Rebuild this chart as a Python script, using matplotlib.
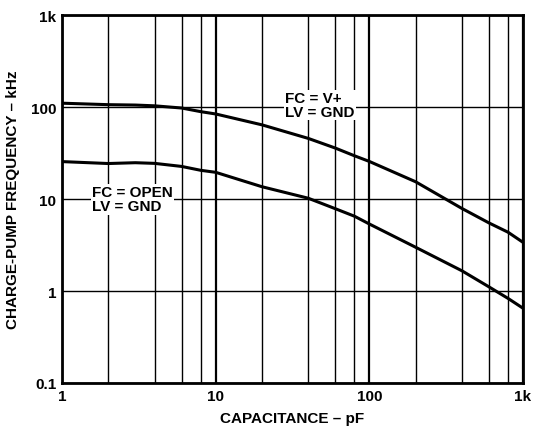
import matplotlib
matplotlib.use("Agg")
import matplotlib.pyplot as plt
from matplotlib.ticker import FixedLocator, NullLocator, FixedFormatter

plt.rcParams['font.family'] = ['Liberation Sans', 'DejaVu Sans']
plt.rcParams['font.weight'] = 'bold'

# capacitance (pF) and charge-pump frequency (kHz)
cap = [1, 2, 3, 4, 6, 8, 10, 20, 40, 60, 80, 100, 200, 400, 600, 800, 1000]
f_vplus = [110, 106, 105, 103, 97.5, 89, 84, 64, 45.6, 35.8, 29.5, 25.6, 15.4, 7.9, 5.5, 4.35, 3.38]
f_open = [25.5, 24.3, 24.8, 24.4, 22.6, 20.5, 19.5, 13.6, 10.2, 7.85, 6.5, 5.35, 2.99, 1.66, 1.11, 0.83, 0.65]

x_ticks = [1, 10, 100, 1000]
x_labels = ["1", "10", "100", "1k"]
y_ticks = [0.1, 1, 10, 100, 1000]
y_labels = ["0.1", "1", "10", "100", "1k"]
x_minor = [2, 4, 6, 8, 20, 40, 60, 80, 200, 400, 600, 800]

fig = plt.figure(figsize=(5.38, 4.31), dpi=100)
ax = fig.add_axes([62/538, 47/431, 461/538, 368/431])
ax.set_xscale('log')
ax.set_yscale('log')
ax.set_xlim(1, 1000)
ax.set_ylim(0.1, 1000)

ax.xaxis.set_major_locator(FixedLocator(x_ticks))
ax.xaxis.set_major_formatter(FixedFormatter(x_labels))
ax.xaxis.set_minor_locator(FixedLocator(x_minor))
ax.yaxis.set_major_locator(FixedLocator(y_ticks))
ax.yaxis.set_major_formatter(FixedFormatter(y_labels))
ax.yaxis.set_minor_locator(NullLocator())

ax.grid(True, which='major', axis='x', color='black', linewidth=1.6)
ax.grid(True, which='minor', axis='x', color='black', linewidth=1.0)
ax.grid(True, which='major', axis='y', color='black', linewidth=1.0)
ax.tick_params(which='both', length=0, labelsize=11, pad=4)
for lab in ax.get_xticklabels() + ax.get_yticklabels():
    lab.set_fontweight('bold')
for s in ax.spines.values():
    s.set_linewidth(2)

ax.plot(cap, f_vplus, color='black', linewidth=2.2, zorder=3)
ax.plot(cap, f_open, color='black', linewidth=2.2, zorder=3)

ax.text(1.57, 9.9, "FC = OPEN\nLV = GND", fontsize=11, fontweight='bold',
        ha='left', va='center', linespacing=1.0,
        bbox=dict(facecolor='white', edgecolor='none', pad=1), zorder=4)
ax.text(28.3, 105, "FC = V+\nLV = GND", fontsize=11, fontweight='bold',
        ha='left', va='center', linespacing=1.0,
        bbox=dict(facecolor='white', edgecolor='none', pad=1), zorder=4)

ax.set_xlabel("CAPACITANCE – pF", fontsize=11, fontweight='bold', labelpad=6)
ax.set_ylabel("CHARGE-PUMP FREQUENCY – kHz", fontsize=11, fontweight='bold', labelpad=8)

fig.savefig("out.png", dpi=100)
